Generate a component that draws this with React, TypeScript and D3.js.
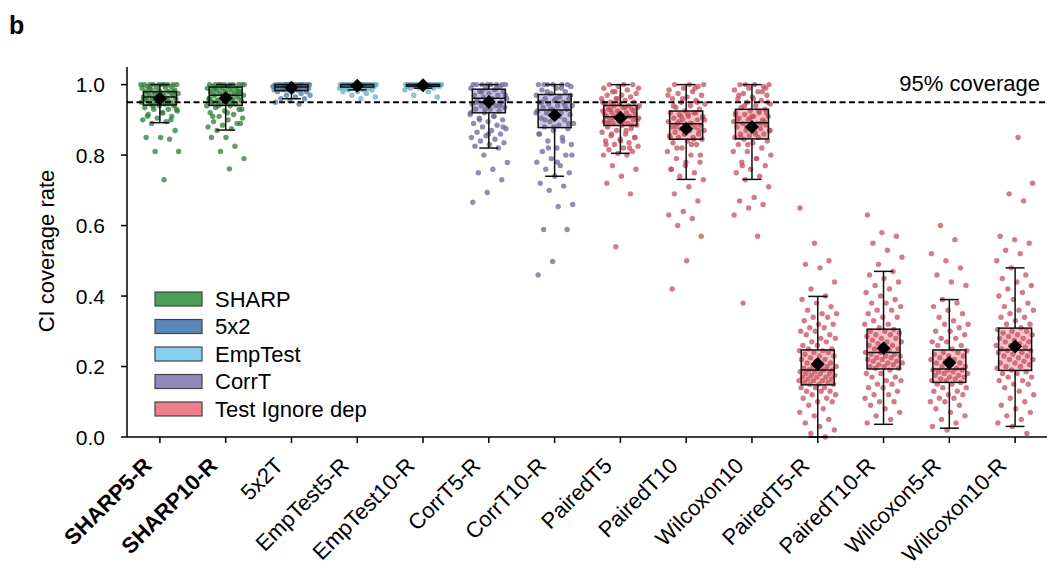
import React from "react";
import * as d3 from "d3";

const categories = [
  "SHARP5-R", "SHARP10-R", "5x2T", "EmpTest5-R", "EmpTest10-R", "CorrT5-R", "CorrT10-R",
  "PairedT5", "PairedT10", "Wilcoxon10", "PairedT5-R", "PairedT10-R", "Wilcoxon5-R", "Wilcoxon10-R",
];
const boldCats = ["SHARP5-R", "SHARP10-R"];
const groupOf = [0, 0, 1, 2, 2, 3, 3, 4, 4, 4, 4, 4, 4, 4];
const groups = ["SHARP", "5x2", "EmpTest", "CorrT", "Test Ignore dep"];
const groupFill = ["#4a9e55", "#5b87b8", "#86d1ef", "#9187bb", "#f07f8e"];
const groupPoint = ["#2f7b3a", "#4a78a6", "#69adc9", "#6c679a", "#c4505e"];

// box stats
const q1 = [0.942, 0.941, 0.983, 0.993, 0.995, 0.92, 0.878, 0.884, 0.845, 0.846, 0.148, 0.193, 0.155, 0.189];
const median = [0.965, 0.97, 0.993, 1.0, 1.0, 0.961, 0.928, 0.909, 0.889, 0.892, 0.19, 0.24, 0.193, 0.247];
const q3 = [0.98, 0.993, 1.0, 1.0, 1.0, 0.987, 0.972, 0.941, 0.925, 0.93, 0.247, 0.306, 0.247, 0.309];
const whiskerLow = [0.892, 0.871, 0.96, 0.985, 0.99, 0.82, 0.74, 0.805, 0.731, 0.731, 0.0, 0.036, 0.025, 0.03];
const whiskerHigh = [1, 1, 1, 1, 1, 1, 1, 1, 1, 1, 0.399, 0.47, 0.39, 0.48];
const means = [0.96, 0.961, 0.991, 0.997, 0.998, 0.951, 0.913, 0.906, 0.875, 0.88, 0.207, 0.252, 0.211, 0.257];

// per-run coverage values (estimated)
const sharp5 = [1, 1, 1, 1, 1, 1, 1, 1, 1, 1, 0.995, 0.995, 0.99, 0.99, 0.99, 0.985, 0.985, 0.98, 0.98, 0.98, 0.975, 0.975, 0.97, 0.97, 0.97, 0.965, 0.965, 0.96, 0.96, 0.96, 0.955, 0.955, 0.95, 0.95, 0.95, 0.945, 0.945, 0.94, 0.94, 0.935, 0.93, 0.93, 0.925, 0.92, 0.915, 0.91, 0.905, 0.9, 0.895, 0.89, 0.87, 0.85, 0.85, 0.845, 0.81, 0.81, 0.73, 0.99, 0.98, 0.97, 0.96, 0.95, 0.94, 0.93, 0.92, 0.91, 0.9];
const sharp10 = [1, 1, 1, 1, 1, 1, 1, 1, 1, 1, 0.995, 0.995, 0.99, 0.99, 0.99, 0.985, 0.985, 0.98, 0.98, 0.98, 0.975, 0.975, 0.97, 0.97, 0.97, 0.965, 0.965, 0.96, 0.96, 0.955, 0.955, 0.95, 0.95, 0.945, 0.945, 0.94, 0.94, 0.935, 0.93, 0.925, 0.92, 0.915, 0.91, 0.905, 0.9, 0.895, 0.89, 0.885, 0.88, 0.875, 0.87, 0.89, 0.85, 0.85, 0.825, 0.81, 0.79, 0.761, 0.99, 0.98, 0.97, 0.96, 0.95, 0.94, 0.93, 0.92, 0.91];
const fivex2 = [1, 1, 1, 1, 1, 1, 1, 1, 1, 1, 1, 1, 1, 1, 1, 0.995, 0.995, 0.995, 0.995, 0.995, 0.995, 0.99, 0.99, 0.99, 0.99, 0.99, 0.99, 0.985, 0.985, 0.985, 0.985, 0.98, 0.98, 0.98, 0.975, 0.97, 0.97, 0.965, 0.96, 0.96, 0.955, 0.95, 0.945];
const emp5 = [1, 1, 1, 1, 1, 1, 1, 1, 1, 1, 1, 1, 1, 1, 1, 1, 1, 1, 1, 1, 0.995, 0.995, 0.995, 0.995, 0.995, 0.995, 0.99, 0.99, 0.99, 0.99, 0.985, 0.985, 0.985, 0.98, 0.98, 0.975, 0.97, 0.965, 0.96];
const emp10 = [1, 1, 1, 1, 1, 1, 1, 1, 1, 1, 1, 1, 1, 1, 1, 1, 1, 1, 1, 1, 1, 1, 0.995, 0.995, 0.995, 0.995, 0.995, 0.99, 0.99, 0.99, 0.985, 0.98, 0.97, 0.965];
const corr5 = [1, 1, 1, 1, 1, 1, 1, 1, 0.995, 0.99, 0.99, 0.985, 0.98, 0.98, 0.975, 0.97, 0.97, 0.965, 0.96, 0.96, 0.955, 0.95, 0.95, 0.945, 0.94, 0.94, 0.935, 0.93, 0.93, 0.925, 0.92, 0.915, 0.91, 0.905, 0.9, 0.895, 0.89, 0.885, 0.88, 0.875, 0.87, 0.865, 0.86, 0.855, 0.85, 0.845, 0.84, 0.835, 0.83, 0.825, 0.82, 0.8, 0.779, 0.76, 0.75, 0.73, 0.694, 0.666, 0.99, 0.98, 0.97, 0.96, 0.95, 0.94, 0.93, 0.92, 0.91, 0.9, 0.88, 0.86];
const corr10 = [1, 1, 1, 1, 1, 1, 0.995, 0.99, 0.985, 0.98, 0.975, 0.97, 0.965, 0.96, 0.96, 0.955, 0.95, 0.95, 0.945, 0.94, 0.94, 0.935, 0.93, 0.93, 0.925, 0.92, 0.92, 0.915, 0.91, 0.905, 0.9, 0.895, 0.89, 0.885, 0.88, 0.875, 0.87, 0.86, 0.85, 0.84, 0.83, 0.82, 0.81, 0.8, 0.79, 0.78, 0.77, 0.76, 0.75, 0.74, 0.72, 0.712, 0.7, 0.66, 0.654, 0.589, 0.589, 0.498, 0.46, 0.99, 0.98, 0.97, 0.96, 0.95, 0.94, 0.93, 0.92, 0.91, 0.9, 0.89, 0.88, 0.86, 0.84, 0.82, 0.8, 0.78];
const paired5 = [1, 1, 1, 0.995, 0.99, 0.985, 0.98, 0.975, 0.97, 0.97, 0.965, 0.96, 0.96, 0.955, 0.95, 0.95, 0.945, 0.945, 0.94, 0.94, 0.935, 0.935, 0.93, 0.93, 0.925, 0.925, 0.92, 0.92, 0.915, 0.915, 0.91, 0.91, 0.91, 0.905, 0.905, 0.9, 0.9, 0.895, 0.895, 0.89, 0.89, 0.885, 0.885, 0.88, 0.875, 0.87, 0.865, 0.86, 0.855, 0.85, 0.845, 0.84, 0.835, 0.83, 0.825, 0.82, 0.815, 0.81, 0.805, 0.8, 0.8, 0.77, 0.76, 0.74, 0.72, 0.69, 0.54, 0.94, 0.935, 0.93, 0.925, 0.92, 0.915, 0.91, 0.905, 0.9, 0.895, 0.89, 0.885, 0.96, 0.95, 0.87, 0.86, 0.85, 0.84, 0.83, 0.82, 0.98, 0.99];
const paired10 = [1, 1, 1, 0.995, 0.99, 0.985, 0.98, 0.975, 0.97, 0.965, 0.96, 0.955, 0.95, 0.945, 0.94, 0.935, 0.93, 0.925, 0.92, 0.92, 0.915, 0.91, 0.91, 0.905, 0.9, 0.9, 0.895, 0.89, 0.89, 0.885, 0.885, 0.88, 0.88, 0.875, 0.87, 0.87, 0.865, 0.86, 0.86, 0.855, 0.85, 0.85, 0.845, 0.84, 0.835, 0.83, 0.82, 0.81, 0.8, 0.79, 0.78, 0.77, 0.76, 0.75, 0.74, 0.73, 0.71, 0.69, 0.67, 0.64, 0.63, 0.62, 0.6, 0.57, 0.5, 0.42, 0.92, 0.91, 0.9, 0.89, 0.88, 0.87, 0.86, 0.85, 0.845, 0.895, 0.905, 0.915, 0.94, 0.95, 0.96, 0.97, 0.83, 0.82, 0.8, 0.78, 0.76, 0.99];
const wilcox10 = [1, 1, 1, 1, 0.995, 0.99, 0.985, 0.98, 0.975, 0.97, 0.965, 0.96, 0.955, 0.95, 0.945, 0.94, 0.935, 0.93, 0.925, 0.92, 0.92, 0.915, 0.91, 0.91, 0.905, 0.9, 0.9, 0.895, 0.89, 0.89, 0.885, 0.885, 0.88, 0.875, 0.87, 0.87, 0.865, 0.86, 0.86, 0.855, 0.85, 0.85, 0.845, 0.84, 0.835, 0.83, 0.82, 0.81, 0.8, 0.79, 0.78, 0.77, 0.76, 0.75, 0.74, 0.73, 0.71, 0.68, 0.67, 0.66, 0.65, 0.63, 0.57, 0.38, 0.92, 0.91, 0.9, 0.89, 0.88, 0.87, 0.86, 0.85, 0.895, 0.905, 0.915, 0.925, 0.94, 0.95, 0.96, 0.97, 0.98, 0.83, 0.81, 0.79, 0.77, 0.99];
const paired5R = [0.0, 0.01, 0.02, 0.03, 0.04, 0.05, 0.06, 0.07, 0.08, 0.09, 0.1, 0.1, 0.11, 0.11, 0.12, 0.12, 0.13, 0.13, 0.13, 0.14, 0.14, 0.14, 0.15, 0.15, 0.15, 0.155, 0.155, 0.16, 0.16, 0.16, 0.165, 0.165, 0.17, 0.17, 0.17, 0.175, 0.175, 0.18, 0.18, 0.18, 0.185, 0.185, 0.19, 0.19, 0.19, 0.195, 0.195, 0.2, 0.2, 0.2, 0.205, 0.21, 0.21, 0.215, 0.22, 0.22, 0.225, 0.23, 0.23, 0.235, 0.24, 0.24, 0.245, 0.245, 0.25, 0.25, 0.26, 0.26, 0.27, 0.27, 0.28, 0.28, 0.29, 0.29, 0.3, 0.3, 0.31, 0.31, 0.32, 0.32, 0.33, 0.34, 0.34, 0.35, 0.35, 0.36, 0.37, 0.38, 0.39, 0.4, 0.42, 0.44, 0.48, 0.49, 0.5, 0.55, 0.65];
const paired10R = [0.04, 0.05, 0.06, 0.07, 0.08, 0.09, 0.1, 0.1, 0.11, 0.12, 0.12, 0.13, 0.14, 0.14, 0.15, 0.15, 0.16, 0.16, 0.17, 0.17, 0.18, 0.18, 0.19, 0.195, 0.195, 0.2, 0.2, 0.205, 0.205, 0.21, 0.21, 0.215, 0.215, 0.22, 0.22, 0.225, 0.225, 0.23, 0.23, 0.235, 0.235, 0.24, 0.24, 0.245, 0.25, 0.25, 0.255, 0.26, 0.26, 0.265, 0.27, 0.27, 0.275, 0.28, 0.28, 0.285, 0.29, 0.29, 0.295, 0.3, 0.3, 0.305, 0.31, 0.32, 0.32, 0.33, 0.34, 0.34, 0.35, 0.36, 0.36, 0.37, 0.38, 0.38, 0.39, 0.4, 0.41, 0.42, 0.43, 0.44, 0.45, 0.46, 0.47, 0.49, 0.51, 0.53, 0.55, 0.57, 0.58, 0.63];
const wilcox5R = [0.02, 0.03, 0.04, 0.05, 0.06, 0.07, 0.08, 0.09, 0.1, 0.1, 0.11, 0.11, 0.12, 0.12, 0.13, 0.13, 0.14, 0.14, 0.15, 0.15, 0.155, 0.16, 0.16, 0.165, 0.165, 0.17, 0.17, 0.175, 0.175, 0.18, 0.18, 0.185, 0.185, 0.19, 0.19, 0.19, 0.195, 0.2, 0.2, 0.205, 0.21, 0.21, 0.215, 0.22, 0.22, 0.225, 0.23, 0.23, 0.235, 0.24, 0.24, 0.245, 0.25, 0.26, 0.26, 0.27, 0.27, 0.28, 0.28, 0.29, 0.3, 0.3, 0.31, 0.32, 0.32, 0.33, 0.34, 0.35, 0.36, 0.37, 0.38, 0.39, 0.43, 0.44, 0.46, 0.48, 0.5, 0.52, 0.56, 0.6];
const wilcox10R = [0.01, 0.03, 0.04, 0.05, 0.06, 0.07, 0.08, 0.09, 0.1, 0.11, 0.12, 0.13, 0.14, 0.15, 0.15, 0.16, 0.16, 0.17, 0.17, 0.18, 0.18, 0.185, 0.19, 0.195, 0.2, 0.2, 0.205, 0.21, 0.21, 0.215, 0.22, 0.22, 0.225, 0.23, 0.23, 0.235, 0.24, 0.24, 0.245, 0.245, 0.25, 0.25, 0.255, 0.26, 0.26, 0.265, 0.27, 0.27, 0.275, 0.28, 0.28, 0.285, 0.29, 0.29, 0.295, 0.3, 0.3, 0.305, 0.31, 0.32, 0.32, 0.33, 0.34, 0.34, 0.35, 0.36, 0.36, 0.37, 0.38, 0.39, 0.4, 0.41, 0.42, 0.43, 0.44, 0.45, 0.46, 0.48, 0.5, 0.52, 0.53, 0.55, 0.56, 0.57, 0.67, 0.69, 0.72, 0.85];
const points = [sharp5, sharp10, fivex2, emp5, emp10, corr5, corr10, paired5, paired10, wilcox10, paired5R, paired10R, wilcox5R, wilcox10R];

const yTicks = [0, 0.2, 0.4, 0.6, 0.8, 1.0];
const refLine = 0.95;

const W = 1047, H = 569;
const left = 127, right = 1048, top = 67, bottom = 437;
const font = "'Liberation Sans', Arial, sans-serif";
const fs = 22;

export default function App() {
  const x = d3.scaleBand().domain(categories).range([left, right]).paddingInner(0).paddingOuter(0);
  const y = d3.scaleLinear().domain([0, 1.05]).range([bottom, top]);
  const bw = 33, cap = 19, jit = 19;
  const diamond = d3.symbol(d3.symbolSquare, 98)() as string;

  return (
    <svg width={W} height={H} style={{ position: "absolute", left: 0, top: 0, background: "#fff" }} fontFamily={font}>
      <text x={9} y={34} fontSize={25} fontWeight="bold">b</text>

      {/* boxes fill */}
      {categories.map((c, i) => {
        const cx = x(c)! + x.bandwidth() / 2;
        return <rect key={"bf" + c} x={cx - bw / 2} y={y(q3[i])} width={bw} height={Math.max(0.5, y(q1[i]) - y(q3[i]))}
          fill={groupFill[groupOf[i]]} fillOpacity={0.45} />;
      })}

      {/* jittered points */}
      {categories.map((c, i) => {
        const cx = x(c)! + x.bandwidth() / 2;
        return (
          <g key={"p" + c} fill={groupPoint[groupOf[i]]} fillOpacity={0.75}>
            {points[i].map((v, k) => {
              const off = (((k * 0.618034 + i * 0.37) % 1) - 0.5) * 2 * jit;
              return <circle key={k} cx={cx + off} cy={y(v)} r={2.7} />;
            })}
          </g>
        );
      })}

      {/* dashed reference */}
      <line x1={left} x2={W} y1={y(refLine)} y2={y(refLine)} stroke="#000" strokeWidth={1.9} strokeDasharray="6,3.5" />
      <text x={1040} y={y(refLine) - 11} fontSize={fs} textAnchor="end">95% coverage</text>

      {/* box lines */}
      {categories.map((c, i) => {
        const cx = x(c)! + x.bandwidth() / 2;
        return (
          <g key={"b" + c} stroke="#111" strokeWidth={1.5} fill="none">
            <line x1={cx} x2={cx} y1={y(q1[i])} y2={y(whiskerLow[i])} />
            <line x1={cx} x2={cx} y1={y(q3[i])} y2={y(whiskerHigh[i])} />
            <line x1={cx - cap / 2} x2={cx + cap / 2} y1={y(whiskerLow[i])} y2={y(whiskerLow[i])} />
            <line x1={cx - cap / 2} x2={cx + cap / 2} y1={y(whiskerHigh[i])} y2={y(whiskerHigh[i])} />
            <rect x={cx - bw / 2} y={y(q3[i])} width={bw} height={y(q1[i]) - y(q3[i])} />
            <line x1={cx - bw / 2} x2={cx + bw / 2} y1={y(median[i])} y2={y(median[i])} />
            <path d={diamond} transform={`translate(${cx},${y(means[i])}) rotate(45)`} fill="#000" stroke="none" />
          </g>
        );
      })}

      {/* y axis */}
      <line x1={left} x2={left} y1={top} y2={bottom} stroke="#000" strokeWidth={1.5} />
      {yTicks.map((t) => (
        <g key={"yt" + t}>
          <line x1={left - 6} x2={left} y1={y(t)} y2={y(t)} stroke="#000" strokeWidth={1.5} />
          <text x={105} y={y(t)} dy="0.36em" fontSize={21} textAnchor="end">{d3.format(".1f")(t)}</text>
        </g>
      ))}
      <text transform={`translate(54,251) rotate(-90)`} fontSize={fs} textAnchor="middle">CI coverage rate</text>

      {/* x axis */}
      <line x1={left} x2={W} y1={bottom} y2={bottom} stroke="#000" strokeWidth={1.5} />
      {categories.map((c) => {
        const cx = x(c)! + x.bandwidth() / 2;
        return (
          <g key={"xt" + c}>
            <line x1={cx} x2={cx} y1={bottom} y2={bottom + 6} stroke="#000" strokeWidth={1.5} />
            <text transform={`translate(${cx - 7},467) rotate(-45)`} fontSize={fs} textAnchor="end"
              fontWeight={boldCats.includes(c) ? "bold" : "normal"}>{c}</text>
          </g>
        );
      })}

      {/* legend */}
      {groups.map((g, k) => {
        const ly = 299 + k * 27.5;
        return (
          <g key={"lg" + g}>
            <rect x={155} y={ly - 7} width={47} height={14} fill={groupFill[k]} stroke="#444" strokeWidth={1.2} />
            <text x={215} y={ly} dy="0.36em" fontSize={fs}>{g}</text>
          </g>
        );
      })}
    </svg>
  );
}
